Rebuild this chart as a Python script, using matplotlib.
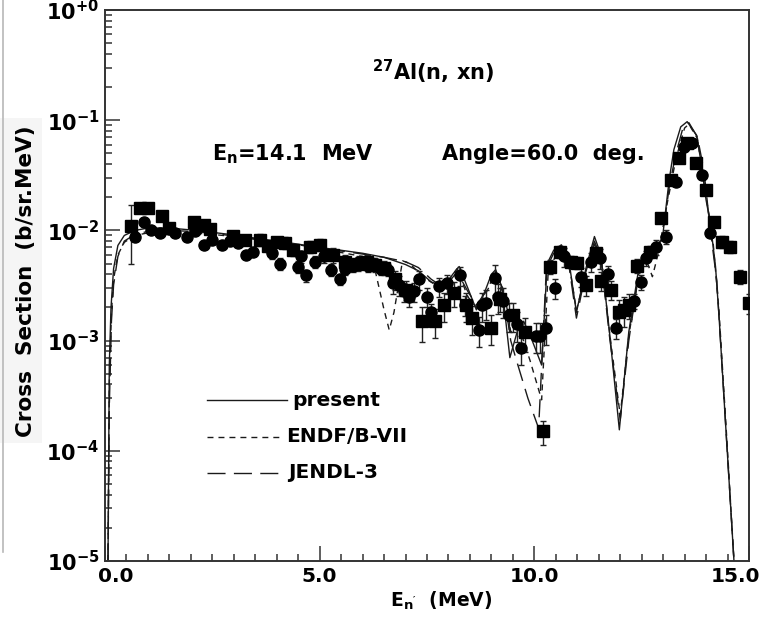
import matplotlib
matplotlib.use("Agg")
import matplotlib.pyplot as plt
import matplotlib.transforms as mtransforms
from matplotlib.patches import Rectangle
from matplotlib.lines import Line2D
import numpy as np

plt.rcParams['font.family'] = ['DejaVu Sans']
plt.rcParams['font.weight'] = 'bold'
plt.rcParams['mathtext.fontset'] = 'custom'
plt.rcParams['mathtext.rm'] = 'DejaVu Sans:bold'
plt.rcParams['mathtext.bf'] = 'DejaVu Sans:bold'
plt.rcParams['mathtext.it'] = 'DejaVu Sans:bold'
plt.rcParams['mathtext.sf'] = 'DejaVu Sans:bold'
plt.rcParams['lines.scale_dashes'] = False

# ---------------- data ----------------
sq_E = [0.6, 0.82, 1.0, 1.32, 1.5, 2.07, 2.3, 2.45, 2.98, 3.25, 3.6, 3.8, 4.0, 4.19, 4.38,
        4.77, 5.0, 5.3, 5.6, 5.9, 6.1, 6.3, 6.5, 6.75, 7.0, 7.39, 7.68, 7.9, 8.12, 8.4,
        8.55, 8.99, 9.2, 9.51, 9.78, 10.2, 10.36, 10.6, 10.86, 10.99, 11.21, 11.44, 11.56,
        11.79, 11.98, 12.1, 12.21, 12.4, 12.7, 12.95, 13.18, 13.37, 13.56, 13.77, 14.0,
        14.18, 14.37, 14.56, 14.8, 15.0]
sq_v = [0.011, 0.0159, 0.0159, 0.0135, 0.0105, 0.0118, 0.0112, 0.0104, 0.0089, 0.0082,
        0.0082, 0.0072, 0.0078, 0.0077, 0.0067, 0.0071, 0.0074, 0.0060, 0.0052, 0.0050,
        0.0052, 0.0049, 0.0046, 0.0036, 0.0029, 0.0015, 0.0015, 0.0021, 0.0027, 0.0021,
        0.0016, 0.0013, 0.0024, 0.0017, 0.0012, 0.00015, 0.0047, 0.0064, 0.0052, 0.0051,
        0.0032, 0.0062, 0.0035, 0.0029, 0.0018, 0.0019, 0.0021, 0.0048, 0.0064, 0.0129,
        0.0287, 0.045, 0.062, 0.041, 0.0233, 0.012, 0.0079, 0.0071, 0.0038, 0.0022]
sq_err = [0.55, 0.08, 0.08, 0.08, 0.1, 0.08, 0.1, 0.1, 0.1, 0.1, 0.12, 0.12, 0.12, 0.12,
          0.12, 0.12, 0.12, 0.15, 0.15, 0.15, 0.15, 0.15, 0.15, 0.2, 0.2, 0.35, 0.3, 0.3,
          0.25, 0.3, 0.3, 0.3, 0.25, 0.3, 0.35, 0.25, 0.15, 0.12, 0.12, 0.12, 0.2, 0.12,
          0.2, 0.2, 0.3, 0.3, 0.25, 0.15, 0.12, 0.1, 0.08, 0.06, 0.05, 0.06, 0.08, 0.1,
          0.12, 0.12, 0.15, 0.2]

ci_E = [0.7, 0.91, 1.08, 1.29, 1.49, 1.64, 1.91, 2.1, 2.3, 2.49, 2.72, 2.91, 3.1, 3.29,
        3.45, 3.88, 4.07, 4.5, 4.57, 4.69, 4.88, 5.11, 5.27, 5.47, 5.58, 5.77, 5.92, 6.12,
        6.27, 6.43, 6.58, 6.7, 6.85, 6.97, 7.08, 7.2, 7.31, 7.49, 7.6, 7.78, 7.97, 8.28,
        8.39, 8.7, 8.78, 8.88, 9.09, 9.16, 9.28, 9.4, 9.6, 9.7, 10.05, 10.13, 10.28, 10.48,
        10.7, 11.09, 11.33, 11.52, 11.71, 11.9, 12.33, 12.48, 12.6, 12.83, 13.06, 13.29,
        13.48, 13.68, 13.9, 14.08]
ci_v = [0.0088, 0.012, 0.010, 0.0094, 0.0104, 0.0094, 0.0088, 0.0098, 0.0074, 0.0082,
        0.0074, 0.0080, 0.0077, 0.0060, 0.0064, 0.0062, 0.0050, 0.0047, 0.0058, 0.0039,
        0.0052, 0.0058, 0.0044, 0.0036, 0.0045, 0.0048, 0.0052, 0.0048, 0.0050, 0.0045,
        0.0044, 0.0033, 0.0032, 0.0028, 0.0025, 0.0028, 0.0036, 0.0025, 0.0018, 0.0031,
        0.0033, 0.0039, 0.0021, 0.00125, 0.0021, 0.0022, 0.0037, 0.0025, 0.0023, 0.0017,
        0.0014, 0.00085, 0.0011, 0.0011, 0.0013, 0.0030, 0.0058, 0.0038, 0.0052, 0.0056,
        0.0040, 0.0013, 0.0023, 0.0034, 0.0056, 0.0071, 0.0088, 0.0277, 0.057, 0.062,
        0.0318, 0.0095]
ci_err = [0.08, 0.08, 0.08, 0.08, 0.08, 0.08, 0.08, 0.08, 0.08, 0.08, 0.08, 0.08, 0.08,
          0.08, 0.08, 0.12, 0.12, 0.12, 0.12, 0.12, 0.12, 0.12, 0.12, 0.12, 0.12, 0.12,
          0.12, 0.12, 0.12, 0.12, 0.12, 0.2, 0.2, 0.2, 0.2, 0.2, 0.2, 0.2, 0.2, 0.2, 0.2,
          0.2, 0.2, 0.3, 0.3, 0.3, 0.3, 0.3, 0.3, 0.3, 0.3, 0.3, 0.3, 0.3, 0.3, 0.2, 0.2,
          0.2, 0.2, 0.2, 0.2, 0.2, 0.15, 0.15, 0.15, 0.15, 0.15, 0.07, 0.07, 0.07, 0.07, 0.07]

present_E = [0.07, 0.1, 0.14, 0.2, 0.3, 0.45, 0.7, 1.0, 1.5, 2.0, 2.5, 3.0, 3.5, 4.0, 4.5,
             5.0, 5.5, 6.0, 6.5, 7.0, 7.3, 7.6, 7.9, 8.1, 8.25, 8.45, 8.65, 8.85, 9.0, 9.1,
             9.25, 9.43, 9.6, 9.75, 9.95, 10.17, 10.3, 10.45, 10.63, 10.8, 10.98, 11.2,
             11.4, 11.55, 11.75, 11.98, 12.2, 12.45, 12.7, 12.98, 13.14, 13.25, 13.41,
             13.56, 13.78, 13.9, 14.0, 14.1, 14.22, 14.3, 14.5, 14.65]
present_v = [1e-5, 6e-4, 0.002, 0.0045, 0.0073, 0.0090, 0.0100, 0.0105, 0.0105, 0.0101,
             0.0096, 0.0091, 0.0085, 0.0080, 0.0075, 0.0070, 0.0066, 0.0062, 0.0057,
             0.0049, 0.0043, 0.0034, 0.0031, 0.0040, 0.0047, 0.0030, 0.0019, 0.0028,
             0.0040, 0.0044, 0.0030, 0.0007, 0.0012, 0.0015, 0.0010, 0.0006, 0.0050,
             0.0066, 0.0074, 0.0055, 0.0018, 0.0045, 0.0088, 0.0060, 0.0012, 0.000155,
             0.0012, 0.0050, 0.0062, 0.0082, 0.0287, 0.054, 0.087, 0.097, 0.073, 0.038,
             0.0189, 0.0116, 0.0047, 0.0017, 9e-5, 1e-5]

endf_E = [0.07, 0.1, 0.15, 0.2, 0.3, 0.45, 0.7, 1.0, 1.5, 2.0, 2.5, 3.0, 3.5, 4.0, 4.5,
          5.0, 5.5, 6.0, 6.3, 6.5, 6.62, 6.73, 6.93, 7.1, 7.4, 7.7, 7.95, 8.2, 8.45, 8.65,
          8.85, 9.1, 9.3, 9.45, 9.65, 9.9, 10.17, 10.32, 10.5, 10.65, 10.8, 10.98, 11.2,
          11.4, 11.55, 11.75, 12.0, 12.2, 12.45, 12.6, 12.75, 12.9, 13.1, 13.3, 13.5,
          13.6, 13.8, 14.0, 14.15, 14.3, 14.5, 14.65]
endf_v = [1e-5, 4e-4, 0.0018, 0.0036, 0.0060, 0.0078, 0.0090, 0.0095, 0.0097, 0.0095,
          0.0092, 0.0088, 0.0083, 0.0078, 0.0073, 0.0068, 0.0063, 0.0058, 0.0042, 0.0019,
          0.00125, 0.0018, 0.0053, 0.0050, 0.0038, 0.0032, 0.0033, 0.0045, 0.0025, 0.0020,
          0.0026, 0.0040, 0.0028, 0.0012, 0.0013, 0.00066, 0.00029, 0.0040, 0.0060,
          0.0068, 0.0052, 0.0019, 0.0040, 0.0075, 0.0058, 0.0012, 0.00021, 0.0011, 0.0045,
          0.0055, 0.0038, 0.0065, 0.018, 0.045, 0.085, 0.092, 0.068, 0.020, 0.009, 0.0019,
          1e-4, 1e-5]

jendl_E = [0.07, 0.1, 0.15, 0.2, 0.3, 0.45, 0.7, 1.0, 1.5, 2.0, 2.5, 3.0, 3.5, 4.0, 4.5,
           5.0, 5.5, 6.0, 6.5, 7.0, 7.3, 7.6, 7.9, 8.2, 8.45, 8.65, 8.85, 9.1, 9.3, 9.45,
           9.6, 9.85, 10.1, 10.28, 10.45, 10.63, 10.8, 10.98, 11.2, 11.4, 11.55, 11.75,
           12.0, 12.2, 12.45, 12.7, 12.98, 13.15, 13.3, 13.45, 13.6, 13.8, 13.95, 14.1,
           14.25, 14.5, 14.65]
jendl_v = [1e-5, 2.5e-4, 0.0015, 0.0032, 0.0058, 0.0080, 0.0092, 0.0098, 0.0100, 0.0098,
           0.0094, 0.0089, 0.0084, 0.0079, 0.0074, 0.0069, 0.0065, 0.0061, 0.0057, 0.0052,
           0.0046, 0.0036, 0.0030, 0.0042, 0.0028, 0.0021, 0.0027, 0.0041, 0.0025, 0.0010,
           0.00063, 0.0003, 0.00016, 0.0045, 0.0062, 0.0070, 0.0050, 0.0016, 0.0042,
           0.0080, 0.0056, 0.0011, 0.00019, 0.0010, 0.0045, 0.0060, 0.0085, 0.026, 0.05,
           0.082, 0.095, 0.07, 0.035, 0.010, 0.0035, 9e-5, 1e-5]

x_ticks = [0.0, 5.0, 10.0, 15.0]
x_ticklabels = ['0.0', '5.0', '10.0', '15.0']
y_ticks = [1e-5, 1e-4, 1e-3, 1e-2, 1e-1, 1e0]
y_ticklabels = [r'$10^{-5}$', r'$10^{-4}$', r'$10^{-3}$', r'$10^{-2}$', r'$10^{-1}$', r'$10^{+0}$']
legend_labels = ['present', 'ENDF/B-VII', 'JENDL-3']

# ---------------- figure ----------------
W, H = 761, 621
fig = plt.figure(figsize=(W / 100, H / 100), dpi=100)
ax = fig.add_axes([105 / W, 1 - 561 / H, (749 - 105) / W, (561 - 10) / H])

# scan artifacts on the left edge
fig.patches.append(Rectangle((0, 1 - 443 / H), 42 / W, (443 - 118) / H,
                             transform=fig.transFigure, facecolor='#f5f5f5',
                             edgecolor='none', zorder=0))
fig.lines.append(Line2D([2.5 / W, 2.5 / W], [1 - 552 / H, 1.0], transform=fig.transFigure,
                        color='#b8b8b8', lw=1.2))

lc = '#1a1a1a'
ax.plot(present_E, present_v, color=lc, lw=1.0, ls='-')
ax.plot(endf_E, endf_v, color=lc, lw=1.0, dashes=(4.3, 3.6))
ax.plot(jendl_E, jendl_v, color=lc, lw=1.0, dashes=(13, 6))

sq_v_a = np.array(sq_v)
sq_e_a = np.array(sq_err)
ax.errorbar(sq_E, sq_v, yerr=[sq_v_a * sq_e_a, sq_v_a * sq_e_a], fmt='s', color='black',
            ms=8.2, mec='black', mfc='black', ecolor='#222222', elinewidth=1.0,
            capsize=2.5, capthick=1.0, zorder=4)
ci_v_a = np.array(ci_v)
ci_e_a = np.array(ci_err)
ax.errorbar(ci_E, ci_v, yerr=[ci_v_a * ci_e_a, ci_v_a * ci_e_a], fmt='o', color='black',
            ms=8.0, mec='black', mfc='black', ecolor='#222222', elinewidth=1.0,
            capsize=2.5, capthick=1.0, zorder=4)

ax.set_yscale('log')
ax.set_xlim(0.0, 15.0)
ax.set_ylim(1e-5, 1.0)

ax.set_xticks(x_ticks)
ax.set_xticklabels(x_ticklabels, fontsize=14.5, fontweight='bold')
ax.set_xticks(np.arange(0.5, 15.0, 0.5)[[i for i in range(29) if (i + 1) % 10 != 0]], minor=True)
ax.set_yticks(y_ticks)
ax.set_yticklabels(y_ticklabels, fontsize=15)
ax.yaxis.set_minor_locator(matplotlib.ticker.LogLocator(base=10, subs=np.arange(2, 10)))
ax.yaxis.set_minor_formatter(matplotlib.ticker.NullFormatter())

ax.tick_params(axis='both', which='both', direction='in', top=False, right=False,
               color='#333333', width=1.1)
ax.tick_params(axis='x', which='major', length=11, pad=4)
ax.tick_params(axis='x', which='minor', length=5)
ax.tick_params(axis='y', which='major', length=11, pad=4)
ax.tick_params(axis='y', which='minor', length=5)

for s in ax.spines.values():
    s.set_linewidth(1.4)
    s.set_color('#333333')

# shift end labels like the reference
xl = ax.get_xticklabels()
xl[0].set_transform(xl[0].get_transform() + mtransforms.ScaledTranslation(11 / 100, 0, fig.dpi_scale_trans))
xl[-1].set_transform(xl[-1].get_transform() + mtransforms.ScaledTranslation(-14 / 100, 0, fig.dpi_scale_trans))

# axis labels
fig.text(26 / W, 1 - 281 / H, 'Cross  Section  (b/sr.MeV)', rotation=90, ha='center',
         va='center', fontsize=15.5, fontweight='bold')
fig.text(441 / W, 1 - 601 / H, r"E$_{\rm n'}$  (MeV)", ha='center', va='center',
         fontsize=13.5, fontweight='bold')

# annotations
fig.text(372 / W, 1 - 80 / H, r'$^{27}$Al(n, xn)', ha='left', va='baseline',
         fontsize=15, fontweight='bold')
fig.text(212 / W, 1 - 160 / H, r'E$_{\rm n}$=14.1  MeV', ha='left', va='baseline',
         fontsize=15, fontweight='bold')
fig.text(442 / W, 1 - 160 / H, 'Angle=60.0  deg.', ha='left', va='baseline',
         fontsize=15, fontweight='bold')

# in-plot legend
def fx(px):
    return (px - 105) / (749 - 105)

def fy(py):
    return (561 - py) / (561 - 10)

leg_styles = [dict(ls='-'), dict(dashes=(4.3, 3.6)), dict(dashes=(13, 6))]
leg_y = [400, 437, 473]
leg_x1 = [287, 283, 278]
leg_tx = [292, 286, 288]
for lab, st, yy, x1, tx in zip(legend_labels, leg_styles, leg_y, leg_x1, leg_tx):
    ax.plot([fx(207), fx(x1)], [fy(yy), fy(yy)], transform=ax.transAxes, color=lc,
            lw=1.0, **st)
    ax.text(fx(tx), fy(yy), lab, transform=ax.transAxes, ha='left', va='center',
            fontsize=14.5, fontweight='bold')

fig.savefig('out.png', dpi=100)
